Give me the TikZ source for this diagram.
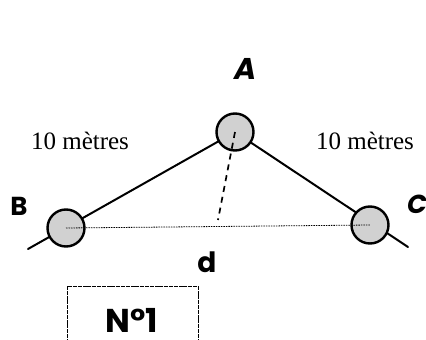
\documentclass[tikz,border=0pt]{standalone}
\usepackage{fontspec}
\setmainfont{Liberation Serif}
\newfontfamily\lblfont{Poppins}
\begin{document}
\begin{tikzpicture}[x=1pt,y=-1pt,
  ball/.style={circle,draw=black,line width=2.4pt,fill=black!18,minimum size=37pt,inner sep=0pt},
  lbl/.style={font=\lblfont\bfseries\fontsize{26}{28}\selectfont,inner sep=0pt},
  dist/.style={font=\fontsize{25}{27}\selectfont,inner sep=0pt},
  rope/.style={line width=2pt,line cap=round},
  height/.style={line width=1.7pt,dash pattern=on 6pt off 5pt},
  base/.style={line width=0.8pt,dash pattern=on 1.5pt off 1pt},
  boxline/.style={line width=0.7pt,dash pattern=on 4pt off 0.8pt}]
\useasboundingbox (0,0) rectangle (426,340);
\coordinate (pA) at (235,132);
\coordinate (pB) at (66,228);
\coordinate (pC) at (370,225);
\coordinate (Bend) at (28,249);
\coordinate (Cend) at (408,247);
\coordinate (foot) at (218,220);
% ropes
\draw[rope] (pA) -- (Bend);
\draw[rope] (pA) -- (Cend);
% balls
\node[ball] (A) at (pA) {};
\node[ball] (B) at (pB) {};
\node[ball] (C) at (pC) {};
% distance and height
\draw[base] (B.center) -- (C.center);
\draw[height] (A.center) -- (foot);
% labels
\node[lbl,font=\lblfont\bfseries\itshape\fontsize{30}{32}\selectfont] (lA) at (246,69) {A};
\node[lbl] (lB) at (19,206) {B};
\node[lbl,font=\lblfont\bfseries\itshape\fontsize{26}{28}\selectfont] (lC) at (417,204) {C};
\node[lbl,font=\lblfont\bfseries\fontsize{28}{30}\selectfont] (ld) at (207,262) {d};
\node[dist] (m1) at (80,141) {10 mètres};
\node[dist] (m2) at (365,141) {10 mètres};
% box
\draw[boxline] (67,286) rectangle (198,352);
\node[lbl,font=\lblfont\bfseries\fontsize{33}{35}\selectfont] (num) at (132,320) {N°1};
\end{tikzpicture}
\end{document}
